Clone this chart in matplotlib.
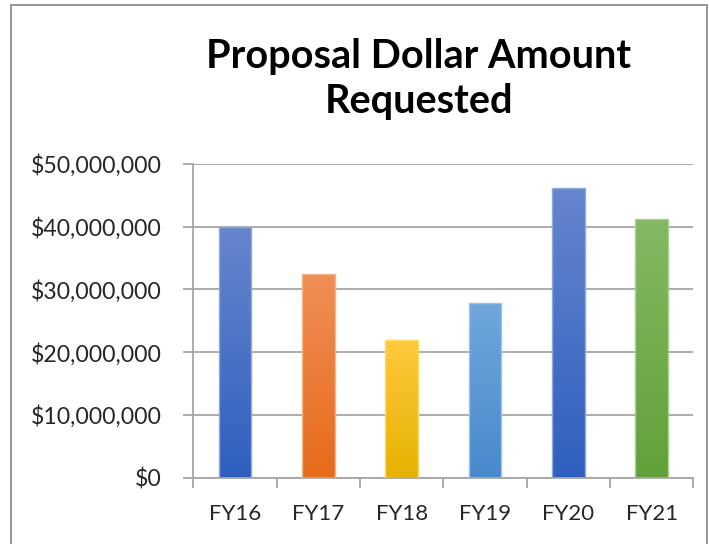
import numpy as np
import matplotlib.pyplot as plt
from matplotlib.colors import LinearSegmentedColormap
from matplotlib.patches import Rectangle
from matplotlib.ticker import FuncFormatter, FixedLocator

# ── data ──────────────────────────────────────────────
years = ["FY16", "FY17", "FY18", "FY19", "FY20", "FY21"]
amounts = [40.0e6, 32.5e6, 22.0e6, 27.8e6, 46.2e6, 41.2e6]

# (top, bottom, edge) colours of each bar's gradient
bar_top = ["#6686cd", "#f08e57", "#ffc93e", "#70a7dd", "#6686cd", "#84b962"]
bar_bottom = ["#2f5fbf", "#e66b1b", "#e6b200", "#4789ca", "#2f5fbf", "#60a139"]
bar_edge = ["#8fa9dc", "#f5b48a", "#ffd966", "#9cc3e6", "#8fa9dc", "#a9d18e"]

plt.rcParams['font.family'] = ['Lato', 'DejaVu Sans']

fig = plt.figure(figsize=(7.09, 5.44), dpi=100)
ax = fig.add_axes([0.2727, 0.1219, 0.978 - 0.2727, 0.699 - 0.1219])

x = np.arange(len(years))
bars = ax.bar(x, amounts, width=0.39, zorder=3, linewidth=1.0)

grad = np.linspace(1, 0, 256).reshape(-1, 1)
for i, patch in enumerate(bars):
    cmap = LinearSegmentedColormap.from_list(f"g{i}", [bar_bottom[i], bar_top[i]])
    patch.set_facecolor("none")
    patch.set_edgecolor(bar_edge[i])
    bx, bw, bh = patch.get_x(), patch.get_width(), patch.get_height()
    im = ax.imshow(grad, cmap=cmap, aspect='auto', extent=[bx, bx + bw, 0, bh],
                   zorder=2, interpolation='bicubic')
    im.set_clip_path(patch)

ax.set_xlim(-0.5, len(years) - 0.5)
ax.set_ylim(0, 50e6)

gray = "#a6a6a6"
ax.yaxis.set_major_locator(FixedLocator(np.arange(0, 50e6 + 1, 10e6)))
ax.yaxis.set_major_formatter(FuncFormatter(lambda v, p: f"${v:,.0f}"))
ax.grid(axis='y', color=gray, linewidth=1.3, zorder=0)
ax.set_axisbelow(True)

ax.set_xticks(x)
ax.set_xticklabels(years)
ax.set_xticks(np.arange(-0.5, len(years)), minor=True)
ax.tick_params(axis='x', which='major', length=0, pad=19, labelsize=16, labelcolor="#262626")
ax.tick_params(axis='x', which='minor', length=7, width=1.3, color=gray, direction='out')
ax.tick_params(axis='y', length=7, width=1.3, color=gray, pad=16, labelsize=16.6,
               labelcolor="#262626")

for side in ['top', 'right']:
    ax.spines[side].set_visible(False)
for side in ['left', 'bottom']:
    ax.spines[side].set_color(gray)
    ax.spines[side].set_linewidth(1.3)

# va='baseline' anchors the last line of the title
fig.text(0.5903, 1 - 112.7 / 544, "Proposal Dollar Amount\nRequested", ha='center',
         va='baseline', fontsize=28.5, fontweight='bold', linespacing=1.26)

# chart area border
fig.patches.append(Rectangle((10.5 / 709, -0.05), (706.5 - 10.5) / 709, 1.05 - 4.5 / 544,
                             transform=fig.transFigure, fill=False, edgecolor="#8c8c8c",
                             linewidth=1.3))

fig.savefig("out.png", dpi=100)
